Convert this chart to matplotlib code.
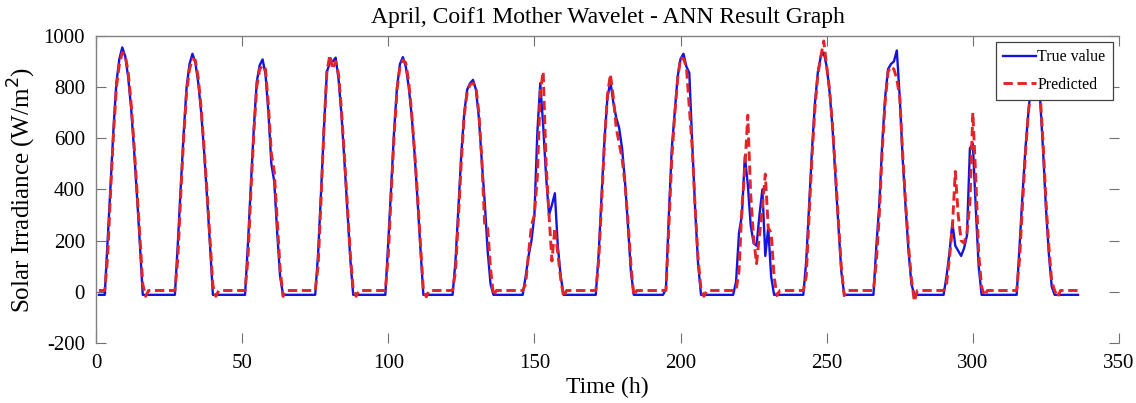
import numpy as np
import matplotlib
matplotlib.use("Agg")
import matplotlib.pyplot as plt

# === hourly values (14 days x 24 h) ===
true_value = [
    -12, -12, -12, 200, 420, 640, 820, 910, 955, 920, 840, 720, 560, 380, 190, -12, -12, -12, -12, -12, -12, -12, -12, -12,
    -12, -12, -12, 190, 410, 620, 800, 890, 930, 895, 815, 700, 545, 370, 185, -12, -12, -12, -12, -12, -12, -12, -12, -12,
    -12, -12, -12, 190, 420, 640, 820, 885, 908, 850, 700, 500, 430, 230, 60, -12, -12, -12, -12, -12, -12, -12, -12, -12,
    -12, -12, -12, 150, 390, 640, 860, 895, 900, 915, 830, 690, 510, 320, 130, -12, -12, -12, -12, -12, -12, -12, -12, -12,
    -12, -12, -12, 195, 410, 630, 800, 890, 917, 880, 800, 690, 540, 360, 170, -12, -12, -12, -12, -12, -12, -12, -12, -12,
    -12, -12, 120, 330, 540, 700, 790, 815, 828, 790, 680, 510, 350, 160, 30, -12, -12, -12, -12, -12, -12, -12, -12, -12,
    -12, -12, 60, 140, 200, 300, 620, 815, 650, 450, 300, 340, 385, 180, 60, -12, -12, -12, -12, -12, -12, -12, -12, -12,
    -12, -12, -12, 150, 380, 600, 760, 822, 740, 680, 640, 560, 430, 260, 80, -12, -12, -12, -12, -12, -12, -12, -12, -12,
    -12, -12, 10, 300, 560, 700, 840, 910, 930, 880, 855, 580, 320, 110, -12, -12, -12, -12, -12, -12, -12, -12, -12, -12,
    -12, -12, 40, 230, 300, 530, 420, 260, 190, 180, 300, 400, 140, 250, 60, -12, -12, -12, -12, -12, -12, -12, -12, -12,
    -12, -12, 120, 340, 560, 740, 860, 920, 935, 880, 780, 640, 450, 260, 80, -12, -12, -12, -12, -12, -12, -12, -12, -12,
    -12, -12, 180, 340, 580, 760, 870, 890, 900, 943, 760, 520, 330, 160, 30, -12, -12, -12, -12, -12, -12, -12, -12, -12,
    -12, -12, 60, 150, 270, 180, 160, 140, 170, 220, 560, 580, 330, 100, -12, -12, -12, -12, -12, -12, -12, -12, -12, -12,
    -12, -12, -12, 180, 380, 560, 700, 820, 870, 830, 760, 560, 330, 150, 20, -12, -12, -12, -12, -12, -12, -12, -12, -12,
]

predicted = [
    5, 5, 5, 140, 390, 620, 800, 890, 935, 925, 860, 740, 580, 400, 220, 30, -18, 5, 5, 5, 5, 5, 5, 5,
    5, 5, 5, 130, 380, 600, 780, 870, 910, 905, 835, 715, 560, 390, 210, 25, -18, 5, 5, 5, 5, 5, 5, 5,
    5, 5, 5, 130, 390, 620, 800, 870, 885, 870, 730, 540, 470, 280, 90, -18, 5, 5, 5, 5, 5, 5, 5, 5,
    5, 5, 5, 100, 360, 640, 860, 925, 870, 900, 850, 710, 530, 340, 150, 10, -18, 5, 5, 5, 5, 5, 5, 5,
    5, 5, 5, 140, 380, 610, 790, 880, 905, 895, 820, 700, 550, 380, 190, 10, -20, 5, 5, 5, 5, 5, 5, 5,
    5, 5, 80, 290, 510, 690, 780, 810, 815, 800, 700, 520, 260, 250, 90, -15, 5, 5, 5, 5, 5, 5, 5, 5,
    5, 5, 30, 150, 260, 300, 450, 780, 860, 500, 300, 120, 250, 150, 50, -20, 5, 5, 5, 5, 5, 5, 5, 5,
    5, 5, 5, 120, 350, 590, 770, 850, 760, 640, 580, 520, 420, 280, 110, -15, 5, 5, 5, 5, 5, 5, 5, 5,
    5, 5, 5, 250, 520, 690, 830, 915, 910, 880, 720, 560, 330, 130, 10, -18, 5, 5, 5, 5, 5, 5, 5, 5,
    5, 5, 5, 80, 330, 480, 690, 380, 210, 110, 220, 330, 460, 250, 230, 60, -15, 5, 5, 5, 5, 5, 5, 5,
    5, 5, 60, 300, 530, 720, 850, 920, 980, 880, 790, 650, 470, 280, 100, -15, 5, 5, 5, 5, 5, 5, 5, 5,
    5, 5, 120, 300, 550, 740, 860, 880, 870, 830, 760, 540, 350, 180, 50, -38, 5, 5, 5, 5, 5, 5, 5, 5,
    5, 5, 30, 130, 250, 470, 300, 200, 190, 230, 350, 700, 450, 150, 20, -15, 5, 5, 5, 5, 5, 5, 5, 5,
    5, 5, 5, 130, 340, 540, 700, 800, 850, 840, 780, 590, 360, 180, 40, 5, -20, 5, 5, 5, 5, 5, 5, 5,
]

hours = np.arange(1, len(true_value) + 1)
x_ticks = [0, 50, 100, 150, 200, 250, 300, 350]
y_ticks = [-200, 0, 200, 400, 600, 800, 1000]

plt.rcParams["font.family"] = ["Liberation Serif", "DejaVu Serif"]
plt.rcParams["axes.unicode_minus"] = False

fig = plt.figure(figsize=(11.36, 4.03), dpi=100)
ax = fig.add_axes([0.0845, 0.149, 0.9005, 0.762])

ax.plot(hours, true_value, color="#1414dc", lw=1.7, label="True value")
ax.plot(hours, predicted, color="#e0262a", lw=2.1, linestyle=(0, (3.2, 1.6)), label="Predicted")

ax.set_xlim(0, 350)
ax.set_ylim(-200, 1000)
ax.set_xticks(x_ticks)
ax.set_yticks(y_ticks)
ax.tick_params(direction="in", top=True, right=True, length=7, width=0.8,
               color="#707070", labelsize=15, pad=8)

for side in ["bottom", "right"]:
    ax.spines[side].set_visible(False)
for side in ["top", "left"]:
    ax.spines[side].set_color("#808080")
    ax.spines[side].set_linewidth(1.0)

ax.set_title("April, Coif1 Mother Wavelet - ANN Result Graph", fontsize=17, pad=9)
ax.set_xlabel("Time (h)", fontsize=17, labelpad=3)
ax.set_ylabel("Solar Irradiance (W/m$^2$)", fontsize=18, labelpad=4)

leg = ax.legend(loc="upper right", fontsize=11.5, handlelength=2.1, borderaxespad=0.4,
                fancybox=False, framealpha=1, edgecolor="#404040", borderpad=0.45,
                handletextpad=0.05, labelspacing=0.7)
leg.get_frame().set_linewidth(0.9)

fig.savefig("out.png", dpi=100)
